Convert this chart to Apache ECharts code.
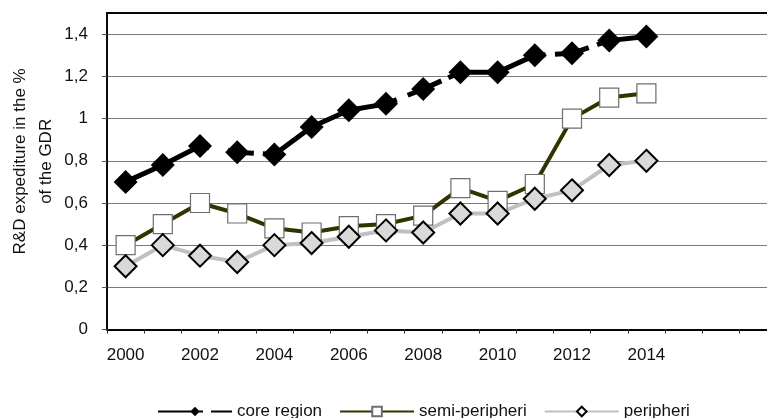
<!DOCTYPE html>
<html>
<head>
<meta charset="utf-8">
<script src="https://cdn.jsdelivr.net/npm/echarts@6/dist/echarts.min.js"></script>
<style>
html,body{margin:0;padding:0;background:#fff;}
#chart{width:767px;height:418px;}
</style>
</head>
<body>
<div id="chart"></div>
<script>
// Years shown (axis extends 3 empty slots past 2014, as in the reference)
const years = ['2000','2001','2002','2003','2004','2005','2006','2007','2008','2009','2010','2011','2012','2013','2014'];
const emptySlots = ['', '', ''];
const categories = years.concat(emptySlots);

const coreRegion    = [0.70, 0.78, 0.87, 0.84, 0.83, 0.96, 1.04, 1.07, 1.14, 1.22, 1.22, 1.30, 1.31, 1.37, 1.39];
const semiPeripheri = [0.40, 0.50, 0.60, 0.55, 0.48, 0.46, 0.49, 0.50, 0.54, 0.67, 0.61, 0.69, 1.00, 1.10, 1.12];
const peripheri     = [0.30, 0.40, 0.35, 0.32, 0.40, 0.41, 0.44, 0.47, 0.46, 0.55, 0.55, 0.62, 0.66, 0.78, 0.80];

const seriesNames = ['core region', 'semi-peripheri', 'peripheri'];
const yAxisTitle = 'R&D expediture in the %\nof the GDR';

const FONT = '"Liberation Sans", Arial, sans-serif';
const dotted = {color: '#000', width: 2, type: [1, 1]};

const chart = echarts.init(document.getElementById('chart'), null, {renderer: 'canvas'});
chart.setOption({
  animation: false,
  backgroundColor: '#fff',
  textStyle: {fontFamily: FONT},
  grid: {left: 107, top: 13.2, right: -9.6, bottom: 88.5, containLabel: false, outerBoundsMode: 'none'},
  legend: {
    left: 152, top: 398,
    itemWidth: 74, itemHeight: 12, itemGap: 17,
    textStyle: {fontSize: 17, color: '#111', fontFamily: FONT},
    data: [
      {name: seriesNames[0], lineStyle: {type: [45, 8, 22]}},
      {name: seriesNames[1]},
      {name: seriesNames[2], itemStyle: {color: '#fff'}}
    ]
  },
  xAxis: [{
    type: 'category',
    data: categories,
    boundaryGap: true,
    axisLine: {lineStyle: dotted},
    axisTick: {show: true, interval: 0, length: 4, inside: false, lineStyle: {color: '#333'}},
    axisLabel: {interval: 1, fontSize: 17, color: '#111', margin: 17, fontFamily: FONT},
    splitLine: {show: false}
  }, {
    type: 'category',
    position: 'top',
    data: categories,
    axisLine: {lineStyle: dotted},
    axisTick: {show: false},
    axisLabel: {show: false},
    splitLine: {show: false}
  }],
  yAxis: {
    type: 'value',
    min: 0, max: 1.5, interval: 0.2,
    name: yAxisTitle,
    nameLocation: 'middle',
    nameRotate: 90,
    nameGap: 48,
    nameMoveOverlap: false,
    nameTextStyle: {fontSize: 17, color: '#111', lineHeight: 26, align: 'center', padding: [0, 0, 0, 20], fontFamily: FONT},
    axisLine: {show: true, lineStyle: dotted},
    axisTick: {show: true, length: 5, inside: false, lineStyle: {color: '#555'}},
    axisLabel: {
      fontSize: 17, color: '#111', margin: 19, showMaxLabel: false, fontFamily: FONT,
      formatter: function (v) { return Math.abs(v - 1.5) < 1e-9 ? '' : String(Math.round(v * 10) / 10).replace('.', ','); }
    },
    splitLine: {show: true, showMinLine: false, showMaxLine: false, lineStyle: {color: '#7a7a7a', width: 1.2}}
  },
  series: [{
    name: seriesNames[0],
    type: 'line',
    data: coreRegion,
    symbol: 'diamond',
    symbolSize: 24,
    lineStyle: {color: '#000', width: 5, type: [92, 18.7, 26.3, 9, 148, 11.7, 36.7, 7.6, 102, 9.5, 34.7, 8.8, 100]},
    itemStyle: {color: '#000', borderColor: '#000', borderWidth: 0}
  }, {
    name: seriesNames[1],
    type: 'line',
    data: semiPeripheri,
    symbol: 'rect',
    symbolSize: 19,
    lineStyle: {color: '#333300', width: 4},
    itemStyle: {color: '#fff', borderColor: '#6e6e6e', borderWidth: 1.2}
  }, {
    name: seriesNames[2],
    type: 'line',
    data: peripheri,
    symbol: 'diamond',
    symbolSize: 22,
    lineStyle: {color: '#c0c0c0', width: 4},
    itemStyle: {color: '#d9d9d9', borderColor: '#000', borderWidth: 2}
  }]
});
</script>
</body>
</html>
